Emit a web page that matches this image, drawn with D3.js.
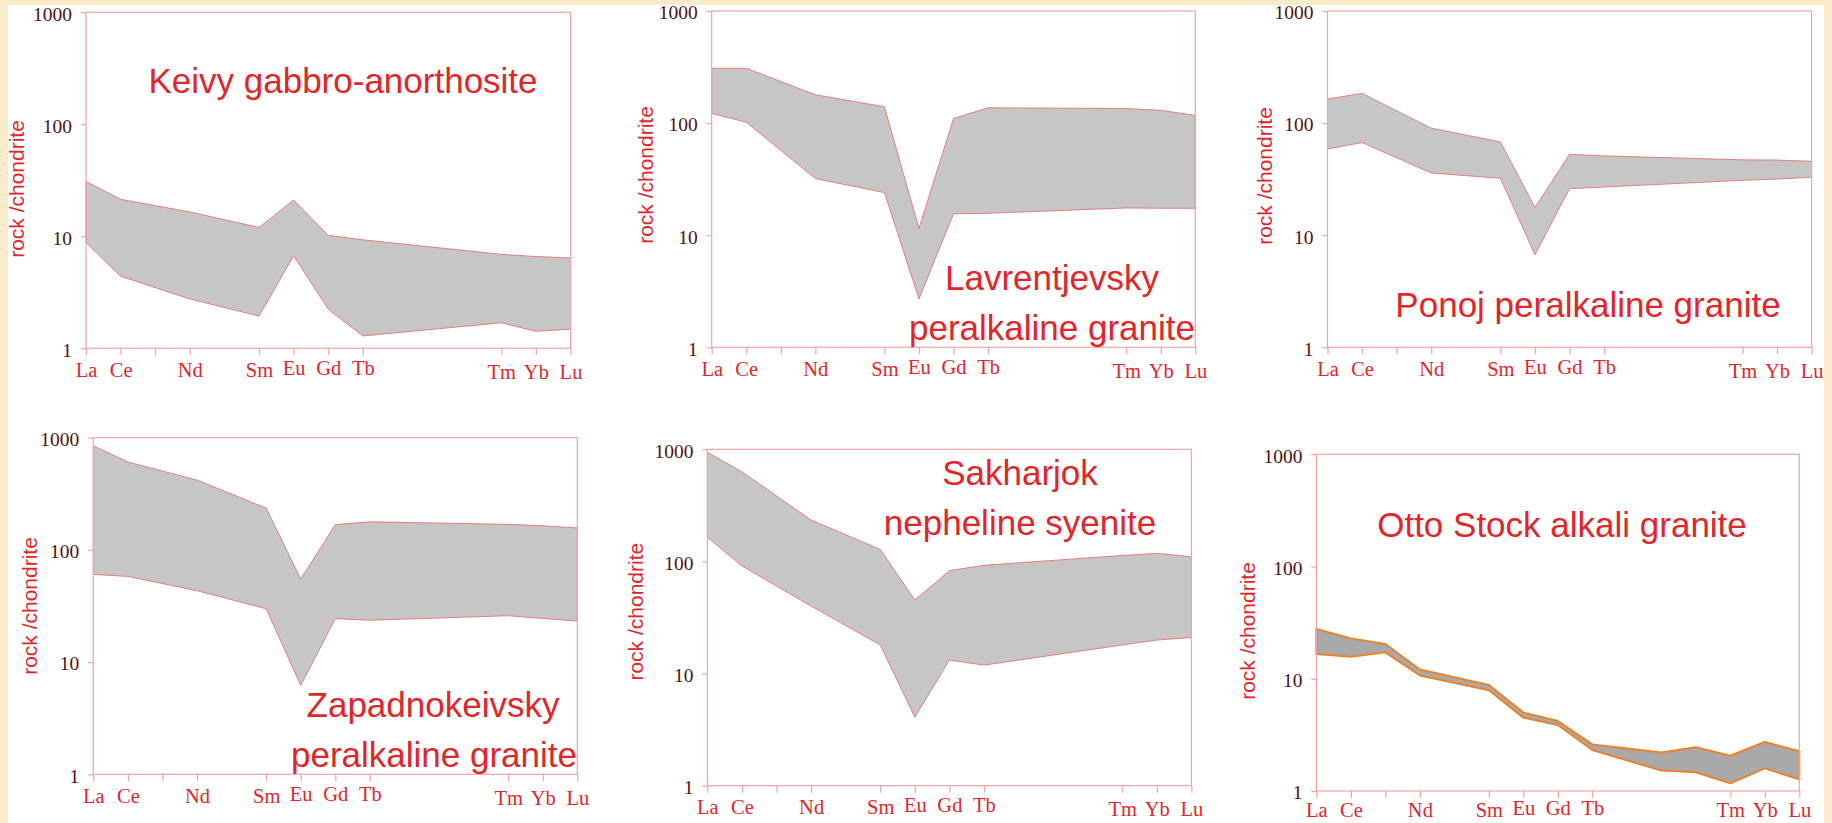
<!DOCTYPE html>
<html>
<head>
<meta charset="utf-8">
<script src="https://cdn.jsdelivr.net/npm/d3@7"></script>
<style>
  body { margin: 0; background: #f9ebc9; }
  svg { display: block; }
</style>
</head>
<body>
<svg id="svg" width="1832" height="823"></svg>
<script>
const width = 1832;
const height = 823;

// REE positions along the x axis (0..14)
const rees = ['La', 'Ce', 'Pr', 'Nd', 'Pm', 'Sm', 'Eu', 'Gd', 'Tb', 'Dy', 'Ho', 'Er', 'Tm', 'Yb', 'Lu'];
const tickIdx = [0, 1, 2, 3, 5, 6, 7, 8, 12, 13, 14];
const tickLabels = ['La', 'Ce', '', 'Nd', 'Sm', 'Eu', 'Gd', 'Tb', 'Tm', 'Yb', 'Lu'];
const yTicks = [1, 10, 100, 1000];

// rock / chondrite, upper and lower envelopes (null = no point)
const keivyHigh = [30.8, 21.4, null, 16.5, null, 12.0, 21.1, 10.2, 9.3, null, null, null, 6.9, 6.6, 6.4];
const keivyLow  = [8.8, 4.4, null, 2.76, null, 1.94, 6.7, 2.23, 1.29, null, null, null, 1.69, 1.42, 1.48];

const lavrHigh = [308, 308, null, 179, null, 140, 11.5, 110, 137, null, null, null, 135, 130, 117];
const lavrLow  = [122, 102, null, 32, null, 24, 2.7, 15.5, 15.7, null, null, null, 17.5, 17.4, 17.4];

const ponojHigh = [164, 184, null, 90, null, 68, 17.7, 52.7, 51, null, null, null, 47, 46.8, 45.6];
const ponojLow  = [58.8, 67, null, 35.9, null, 32.2, 6.7, 26, 26.9, null, null, null, 30.9, 31.7, 32.9];

const zapHigh = [848, 607, null, 419, null, 236, 55, 168, 178, null, null, null, 169, 164, 157];
const zapLow  = [60.5, 58, null, 43.3, null, 29.9, 6.2, 24.4, 23.6, null, null, null, 25.9, 24.5, 23.2];

const sakhHigh = [940, 629, null, 234, null, 128, 45.3, 82.7, 92.4, null, null, null, 113, 118, 110];
const sakhLow  = [164, 91, null, 40, null, 18, 4.07, 13.2, 11.9, null, null, null, 18, 19.9, 21];

const ottoHigh = [27.8, 22.9, 20.4, 12.1, null, 8.8, 4.99, 4.2, 2.6, null, 2.2, 2.45, 2.06, 2.73, 2.26];
const ottoLow  = [16.6, 15.7, 17.2, 10.7, null, 7.9, 4.5, 3.87, 2.32, null, 1.52, 1.47, 1.17, 1.59, 1.27];

const titleColor = '#e1262a';
const axisColor = '#f2a3a3';
const numColor = '#4e1010';

const panels = [
	{ high: keivyHigh, low: keivyLow, left: 86, right: 570.5, top: 12.3, bottom: 348.3,
	  yt: [16, 189], title: [['Keivy gabbro-anorthosite', 343, 93]] },
	{ high: lavrHigh, low: lavrLow, left: 711.7, right: 1195.3, top: 11, bottom: 347.3,
	  yt: [645, 175], title: [['Lavrentjevsky', 1052, 290], ['peralkaline granite', 1052, 340]] },
	{ high: ponojHigh, low: ponojLow, left: 1327.5, right: 1811.6, top: 11, bottom: 347.3,
	  yt: [1264.5, 176], title: [['Ponoj peralkaline granite', 1588, 316.7]] },
	{ high: zapHigh, low: zapLow, left: 93.3, right: 577.3, top: 437.7, bottom: 774.3,
	  yt: [29.7, 606], title: [['Zapadnokeivsky', 433, 716.7], ['peralkaline granite', 434, 766.7]] },
	{ high: sakhHigh, low: sakhLow, left: 707.4, right: 1191.4, top: 449.3, bottom: 785.7,
	  yt: [635.8, 611.7], title: [['Sakharjok', 1020, 485], ['nepheline syenite', 1020, 535]] },
	{ high: ottoHigh, low: ottoLow, left: 1316.4, right: 1799.3, top: 454.3, bottom: 791,
	  yt: [1247, 631], title: [['Otto Stock alkali granite', 1562, 536.7]],
	  fill: '#a9a9a9', stroke: '#e8832c', strokeWidth: 2, tight: true }
];

const svg = d3.select('#svg');

svg.append('rect')
	.attr('x', 8)
	.attr('y', 5)
	.attr('width', 1816)
	.attr('height', height - 5)
	.attr('fill', '#ffffff');

panels.forEach(p => {
	const xScale = d3.scaleLinear().domain([0, rees.length - 1]).range([p.left, p.right]);
	const yScale = d3.scaleLog().domain([1, 1000]).range([p.bottom, p.top]);

	const pts = rees.map((r, i) => ({ i: i, hi: p.high[i], lo: p.low[i] }))
		.filter(d => d.hi != null && d.lo != null);

	const area = d3.area()
		.x(d => xScale(d.i))
		.y0(d => yScale(d.lo))
		.y1(d => yScale(d.hi));

	const g = svg.append('g');

	g.append('path')
		.datum(pts)
		.attr('d', d => area(d) + 'Z')
		.attr('fill', p.fill || '#c6c6c6')
		.attr('stroke', p.stroke || '#e57373')
		.attr('stroke-width', p.strokeWidth || 0.9)
		.attr('stroke-linejoin', 'round');

	// frame
	g.append('rect')
		.attr('x', p.left)
		.attr('y', p.top)
		.attr('width', p.right - p.left)
		.attr('height', p.bottom - p.top)
		.attr('fill', 'none')
		.attr('stroke', axisColor)
		.attr('stroke-width', 1.2);

	const xAxis = d3.axisBottom(xScale)
		.tickValues(tickIdx)
		.tickFormat((d, k) => tickLabels[k])
		.tickSizeInner(7)
		.tickSizeOuter(0)
		.tickPadding(p.tight ? 5 : 7);

	const yAxis = d3.axisLeft(yScale)
		.tickValues(yTicks)
		.tickFormat(d3.format('d'))
		.tickSizeInner(5)
		.tickSizeOuter(0)
		.tickPadding(9);

	const gx = g.append('g')
		.attr('transform', 'translate(0,' + p.bottom + ')')
		.call(xAxis);
	gx.select('.domain').remove();
	gx.selectAll('line').attr('stroke', axisColor).attr('stroke-width', 1.2);
	gx.selectAll('text')
		.attr('fill', titleColor)
		.style('font-family', '"Liberation Serif", "Times New Roman", serif')
		.style('font-size', '20.5px')
		.attr('dy', (d, k) => k >= 8 ? (p.tight ? '0.7em' : '0.82em') : (k >= 5 ? '0.6em' : '0.7em'));

	const gy = g.append('g')
		.attr('transform', 'translate(' + p.left + ',0)')
		.call(yAxis);
	gy.select('.domain').remove();
	gy.selectAll('line').attr('stroke', axisColor).attr('stroke-width', 1.2);
	gy.selectAll('text')
		.attr('fill', numColor)
		.style('font-family', '"Liberation Serif", "Times New Roman", serif')
		.style('font-size', '19.5px')
		.attr('dy', '0.4em');

	g.append('text')
		.attr('transform', 'translate(' + p.yt[0] + ',' + p.yt[1] + ') rotate(-90)')
		.attr('text-anchor', 'middle')
		.attr('dy', '0.36em')
		.attr('fill', titleColor)
		.style('font-family', '"Liberation Sans", Arial, sans-serif')
		.style('font-size', '21px')
		.text('rock /chondrite');

	g.selectAll(null)
		.data(p.title)
		.enter()
		.append('text')
		.attr('x', d => d[1])
		.attr('y', d => d[2])
		.attr('text-anchor', 'middle')
		.attr('fill', titleColor)
		.style('font-family', '"Liberation Sans", Arial, sans-serif')
		.style('font-size', '35px')
		.text(d => d[0]);
});
</script>
</body>
</html>
